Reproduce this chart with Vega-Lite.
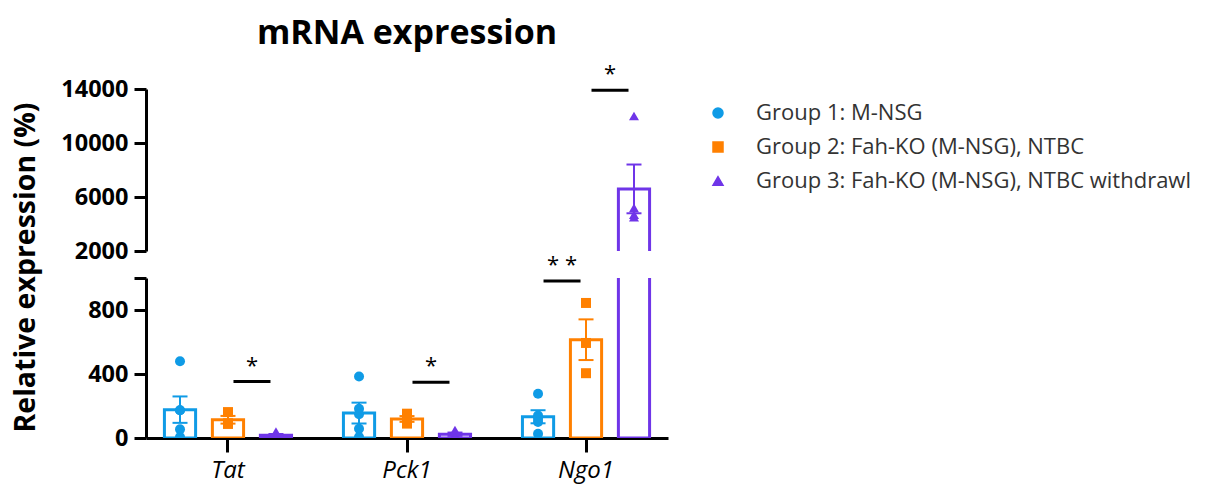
{
  "$schema": "https://vega.github.io/schema/vega-lite/v6.json",
  "padding": {"left": 10, "top": 17, "right": 0, "bottom": 5},
  "background": "white",
  "bounds": "flush",
  "title": {"text": "mRNA expression", "fontSize": 34, "fontWeight": "bold", "font": "Open Sans", "color": "black", "anchor": "middle", "frame": "group", "offset": 12},
  "datasets": {
    "pts": [
      {"gene": "Tat", "group": "Group 1: M-NSG", "value": 480},
      {"gene": "Tat", "group": "Group 1: M-NSG", "value": 173},
      {"gene": "Tat", "group": "Group 1: M-NSG", "value": 173},
      {"gene": "Tat", "group": "Group 1: M-NSG", "value": 54},
      {"gene": "Tat", "group": "Group 1: M-NSG", "value": 6},
      {"gene": "Tat", "group": "Group 2: Fah-KO (M-NSG), NTBC", "value": 162},
      {"gene": "Tat", "group": "Group 2: Fah-KO (M-NSG), NTBC", "value": 92},
      {"gene": "Tat", "group": "Group 2: Fah-KO (M-NSG), NTBC", "value": 88},
      {"gene": "Tat", "group": "Group 3: Fah-KO (M-NSG), NTBC withdrawl", "value": 40},
      {"gene": "Tat", "group": "Group 3: Fah-KO (M-NSG), NTBC withdrawl", "value": 8},
      {"gene": "Tat", "group": "Group 3: Fah-KO (M-NSG), NTBC withdrawl", "value": 18},
      {"gene": "Tat", "group": "Group 3: Fah-KO (M-NSG), NTBC withdrawl", "value": 5},
      {"gene": "Pck1", "group": "Group 1: M-NSG", "value": 384},
      {"gene": "Pck1", "group": "Group 1: M-NSG", "value": 183},
      {"gene": "Pck1", "group": "Group 1: M-NSG", "value": 148},
      {"gene": "Pck1", "group": "Group 1: M-NSG", "value": 58},
      {"gene": "Pck1", "group": "Group 1: M-NSG", "value": 6},
      {"gene": "Pck1", "group": "Group 2: Fah-KO (M-NSG), NTBC", "value": 152},
      {"gene": "Pck1", "group": "Group 2: Fah-KO (M-NSG), NTBC", "value": 115},
      {"gene": "Pck1", "group": "Group 2: Fah-KO (M-NSG), NTBC", "value": 90},
      {"gene": "Pck1", "group": "Group 3: Fah-KO (M-NSG), NTBC withdrawl", "value": 50},
      {"gene": "Pck1", "group": "Group 3: Fah-KO (M-NSG), NTBC withdrawl", "value": 30},
      {"gene": "Pck1", "group": "Group 3: Fah-KO (M-NSG), NTBC withdrawl", "value": 10},
      {"gene": "Pck1", "group": "Group 3: Fah-KO (M-NSG), NTBC withdrawl", "value": 5},
      {"gene": "Ngo1", "group": "Group 1: M-NSG", "value": 277},
      {"gene": "Ngo1", "group": "Group 1: M-NSG", "value": 140},
      {"gene": "Ngo1", "group": "Group 1: M-NSG", "value": 120},
      {"gene": "Ngo1", "group": "Group 1: M-NSG", "value": 100},
      {"gene": "Ngo1", "group": "Group 1: M-NSG", "value": 27},
      {"gene": "Ngo1", "group": "Group 2: Fah-KO (M-NSG), NTBC", "value": 844},
      {"gene": "Ngo1", "group": "Group 2: Fah-KO (M-NSG), NTBC", "value": 594},
      {"gene": "Ngo1", "group": "Group 2: Fah-KO (M-NSG), NTBC", "value": 405},
      {"gene": "Ngo1", "group": "Group 3: Fah-KO (M-NSG), NTBC withdrawl", "value": 12000},
      {"gene": "Ngo1", "group": "Group 3: Fah-KO (M-NSG), NTBC withdrawl", "value": 5200},
      {"gene": "Ngo1", "group": "Group 3: Fah-KO (M-NSG), NTBC withdrawl", "value": 4500},
      {"gene": "Ngo1", "group": "Group 3: Fah-KO (M-NSG), NTBC withdrawl", "value": 4700}
    ],
    "sig": [
      {"gene": "Tat", "pair": "g23", "y": 353, "label": "*"},
      {"gene": "Pck1", "pair": "g23", "y": 349, "label": "*"},
      {"gene": "Ngo1", "pair": "g12", "y": 982, "label": "* *"},
      {"gene": "Ngo1", "pair": "g23", "y": 13900, "label": "*"}
    ]
  },
  "config": {
    "view": {"stroke": null},
    "font": "Open Sans",
    "tick": {"opacity": 1},
    "axis": {"domainColor": "black", "domainWidth": 3, "tickColor": "black", "tickWidth": 3, "labelFont": "Open Sans", "labelColor": "black", "labelFontWeight": "bold", "grid": false, "titleFont": "Open Sans", "titleColor": "black", "titleFontWeight": "bold"},
    "legend": {"labelFont": "Open Sans", "labelColor": "#333333"}
  },
  "vconcat": [
    {
      "width": 522,
      "height": 162,
      "data": {"name": "pts"},
      "layer": [
        {
          "transform": [
            {"aggregate": [{"op": "mean", "field": "value", "as": "mean"}, {"op": "stderr", "field": "value", "as": "sem"}], "groupby": ["gene", "group"]},
            {"calculate": "datum.mean - datum.sem", "as": "lo"},
            {"calculate": "datum.mean + datum.sem", "as": "hi"}
          ],
          "layer": [
            {
              "mark": {"type": "bar", "filled": false, "strokeWidth": 3, "clip": true},
              "encoding": {
                "x": {"field": "gene", "type": "nominal", "sort": ["Tat", "Pck1", "Ngo1"], "scale": {"paddingInner": 0.196, "paddingOuter": 0.056}, "axis": null},
                "xOffset": {"field": "group", "type": "nominal", "scale": {"type": "band", "domain": ["Group 1: M-NSG", "Group 2: Fah-KO (M-NSG), NTBC", "Group 3: Fah-KO (M-NSG), NTBC withdrawl"], "paddingInner": 0.35, "paddingOuter": 0.175}},
                "y": {"field": "mean", "type": "quantitative", "scale": {"domain": [2000, 14000], "zero": false, "nice": false}, "axis": {"values": [2000, 6000, 10000, 14000], "format": "d", "title": "Relative expression (%)", "titleFontSize": 28.5, "titleX": -106, "titleY": 178, "labelFontSize": 23.5, "tickSize": 12, "labelPadding": 6}},
                "color": {"field": "group", "type": "nominal", "scale": {"domain": ["Group 1: M-NSG", "Group 2: Fah-KO (M-NSG), NTBC", "Group 3: Fah-KO (M-NSG), NTBC withdrawl"], "range": ["#0f9be6", "#ff8000", "#6f35e8"]}}
              }
            },
            {
              "mark": {"type": "rule", "strokeWidth": 2, "clip": true},
              "encoding": {
                "x": {"field": "gene", "type": "nominal", "sort": ["Tat", "Pck1", "Ngo1"]},
                "xOffset": {"field": "group", "type": "nominal"},
                "y": {"field": "lo", "type": "quantitative"},
                "y2": {"field": "hi"},
                "color": {"field": "group", "type": "nominal"}
              }
            },
            {
              "mark": {"type": "tick", "orient": "horizontal", "size": 15, "thickness": 2, "opacity": 1, "clip": true},
              "encoding": {
                "x": {"field": "gene", "type": "nominal", "sort": ["Tat", "Pck1", "Ngo1"]},
                "xOffset": {"field": "group", "type": "nominal"},
                "y": {"field": "hi", "type": "quantitative"},
                "color": {"field": "group", "type": "nominal"}
              }
            },
            {
              "mark": {"type": "tick", "orient": "horizontal", "size": 15, "thickness": 2, "opacity": 1, "clip": true},
              "encoding": {
                "x": {"field": "gene", "type": "nominal", "sort": ["Tat", "Pck1", "Ngo1"]},
                "xOffset": {"field": "group", "type": "nominal"},
                "y": {"field": "lo", "type": "quantitative"},
                "color": {"field": "group", "type": "nominal"}
              }
            }
          ]
        },
        {
          "mark": {"type": "point", "filled": true, "size": 100, "opacity": 1, "clip": true},
          "encoding": {
            "x": {"field": "gene", "type": "nominal", "sort": ["Tat", "Pck1", "Ngo1"]},
            "xOffset": {"field": "group", "type": "nominal", "scale": {"type": "band", "domain": ["Group 1: M-NSG", "Group 2: Fah-KO (M-NSG), NTBC", "Group 3: Fah-KO (M-NSG), NTBC withdrawl"], "paddingInner": 0.35, "paddingOuter": 0.175}},
            "y": {"field": "value", "type": "quantitative"},
            "color": {"field": "group", "type": "nominal"},
            "shape": {"field": "group", "type": "nominal", "scale": {"domain": ["Group 1: M-NSG", "Group 2: Fah-KO (M-NSG), NTBC", "Group 3: Fah-KO (M-NSG), NTBC withdrawl"], "range": ["circle", "square", "triangle-up"]}}
          }
        },
        {
          "data": {"name": "sig"},
          "transform": [{"filter": "datum.y >= 2000"}],
          "layer": [
            {
              "mark": {"type": "tick", "orient": "horizontal", "size": 37, "thickness": 3, "color": "black", "opacity": 1},
              "encoding": {
                "x": {"field": "gene", "type": "nominal", "sort": ["Tat", "Pck1", "Ngo1"]},
                "xOffset": {"field": "pair", "type": "nominal", "scale": {"type": "point", "domain": ["g1", "g12", "g2", "g23", "g3"], "padding": 1}},
                "y": {"field": "y", "type": "quantitative"}
              }
            },
            {
              "mark": {"type": "text", "fontSize": 22, "color": "black", "dy": -9, "baseline": "alphabetic"},
              "encoding": {
                "x": {"field": "gene", "type": "nominal", "sort": ["Tat", "Pck1", "Ngo1"]},
                "xOffset": {"field": "pair", "type": "nominal", "scale": {"type": "point", "domain": ["g1", "g12", "g2", "g23", "g3"], "padding": 1}},
                "y": {"field": "y", "type": "quantitative"},
                "text": {"field": "label"}
              }
            }
          ]
        }
      ],
      "resolve": {"scale": {"xOffset": "independent"}}
    },
    {
      "width": 522,
      "height": 160,
      "data": {"name": "pts"},
      "layer": [
        {
          "transform": [
            {"aggregate": [{"op": "mean", "field": "value", "as": "mean"}, {"op": "stderr", "field": "value", "as": "sem"}], "groupby": ["gene", "group"]},
            {"calculate": "datum.mean - datum.sem", "as": "lo"},
            {"calculate": "datum.mean + datum.sem", "as": "hi"}
          ],
          "layer": [
            {
              "mark": {"type": "bar", "filled": false, "strokeWidth": 3, "clip": true},
              "encoding": {
                "x": {"field": "gene", "type": "nominal", "sort": ["Tat", "Pck1", "Ngo1"], "scale": {"paddingInner": 0.196, "paddingOuter": 0.056}, "axis": {"title": null, "labelAngle": 0, "labelFontStyle": "italic", "labelFontWeight": "normal", "labelFontSize": 24, "tickSize": 14, "labelPadding": 6}},
                "xOffset": {"field": "group", "type": "nominal", "scale": {"type": "band", "domain": ["Group 1: M-NSG", "Group 2: Fah-KO (M-NSG), NTBC", "Group 3: Fah-KO (M-NSG), NTBC withdrawl"], "paddingInner": 0.35, "paddingOuter": 0.175}},
                "y": {"field": "mean", "type": "quantitative", "scale": {"domain": [0, 1000], "nice": false}, "axis": {"values": [0, 400, 800, 1000], "labelExpr": "datum.value == 1000 ? '' : datum.label", "title": null, "labelFontSize": 23.5, "tickSize": 12, "labelPadding": 6}},
                "color": {"field": "group", "type": "nominal"}
              }
            },
            {
              "mark": {"type": "rule", "strokeWidth": 2, "clip": true},
              "encoding": {
                "x": {"field": "gene", "type": "nominal", "sort": ["Tat", "Pck1", "Ngo1"]},
                "xOffset": {"field": "group", "type": "nominal"},
                "y": {"field": "lo", "type": "quantitative"},
                "y2": {"field": "hi"},
                "color": {"field": "group", "type": "nominal"}
              }
            },
            {
              "mark": {"type": "tick", "orient": "horizontal", "size": 15, "thickness": 2, "opacity": 1, "clip": true},
              "encoding": {
                "x": {"field": "gene", "type": "nominal", "sort": ["Tat", "Pck1", "Ngo1"]},
                "xOffset": {"field": "group", "type": "nominal"},
                "y": {"field": "hi", "type": "quantitative"},
                "color": {"field": "group", "type": "nominal"}
              }
            },
            {
              "mark": {"type": "tick", "orient": "horizontal", "size": 15, "thickness": 2, "opacity": 1, "clip": true},
              "encoding": {
                "x": {"field": "gene", "type": "nominal", "sort": ["Tat", "Pck1", "Ngo1"]},
                "xOffset": {"field": "group", "type": "nominal"},
                "y": {"field": "lo", "type": "quantitative"},
                "color": {"field": "group", "type": "nominal"}
              }
            }
          ]
        },
        {
          "mark": {"type": "point", "filled": true, "size": 100, "opacity": 1, "clip": true},
          "encoding": {
            "x": {"field": "gene", "type": "nominal", "sort": ["Tat", "Pck1", "Ngo1"]},
            "xOffset": {"field": "group", "type": "nominal", "scale": {"type": "band", "domain": ["Group 1: M-NSG", "Group 2: Fah-KO (M-NSG), NTBC", "Group 3: Fah-KO (M-NSG), NTBC withdrawl"], "paddingInner": 0.35, "paddingOuter": 0.175}},
            "y": {"field": "value", "type": "quantitative"},
            "color": {"field": "group", "type": "nominal", "legend": {"title": null, "orient": "none", "legendX": 561, "legendY": 13, "labelFontSize": 22, "symbolSize": 100, "rowPadding": 12, "labelOffset": 27, "labelLimit": 600}},
            "shape": {"field": "group", "type": "nominal", "scale": {"domain": ["Group 1: M-NSG", "Group 2: Fah-KO (M-NSG), NTBC", "Group 3: Fah-KO (M-NSG), NTBC withdrawl"], "range": ["circle", "square", "triangle-up"]}}
          }
        },
        {
          "data": {"name": "sig"},
          "transform": [{"filter": "datum.y < 2000"}],
          "layer": [
            {
              "mark": {"type": "tick", "orient": "horizontal", "size": 37, "thickness": 3, "color": "black", "opacity": 1},
              "encoding": {
                "x": {"field": "gene", "type": "nominal", "sort": ["Tat", "Pck1", "Ngo1"]},
                "xOffset": {"field": "pair", "type": "nominal", "scale": {"type": "point", "domain": ["g1", "g12", "g2", "g23", "g3"], "padding": 1}},
                "y": {"field": "y", "type": "quantitative"}
              }
            },
            {
              "mark": {"type": "text", "fontSize": 22, "color": "black", "dy": -9, "baseline": "alphabetic"},
              "encoding": {
                "x": {"field": "gene", "type": "nominal", "sort": ["Tat", "Pck1", "Ngo1"]},
                "xOffset": {"field": "pair", "type": "nominal", "scale": {"type": "point", "domain": ["g1", "g12", "g2", "g23", "g3"], "padding": 1}},
                "y": {"field": "y", "type": "quantitative"},
                "text": {"field": "label"}
              }
            }
          ]
        }
      ],
      "resolve": {"scale": {"xOffset": "independent"}}
    }
  ],
  "spacing": 27
}
